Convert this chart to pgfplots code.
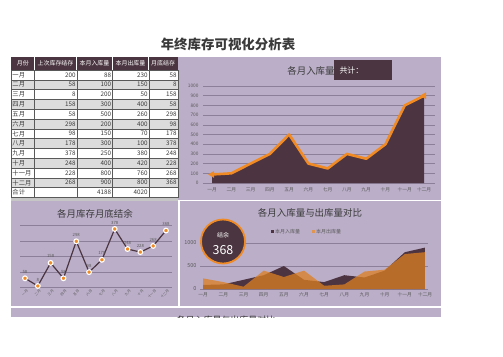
\documentclass[border=0pt]{standalone}
\usepackage{pgfplots}
\pgfplotsset{compat=1.18}
\usepackage{fontspec}
\setmainfont{Noto Sans CJK SC}
\definecolor{panel}{HTML}{BBAEC8}
\definecolor{darkarea}{HTML}{4D3441}
\definecolor{orng}{HTML}{F08A24}
\definecolor{hdr}{HTML}{4A3540}
\definecolor{rowgray}{HTML}{DCDCDC}
\definecolor{gridc}{HTML}{8C7F99}
\definecolor{txtgray}{HTML}{5A5A5A}
\definecolor{txtdark}{HTML}{3A3A3A}
\pgfplotsset{/pgf/number format/1000 sep={}}
\begin{document}
\begin{tikzpicture}[x=1bp,y=1bp]
\path[use as bounding box] (0,0) rectangle (503,356);
\fill[white] (0,0) rectangle (503,356);
% panels
\fill[panel] (11,{356-317}) rectangle (441,{356-57});
\fill[white] (11,{356-307.5}) rectangle (441,{356-306});
\fill[white] (178,{356-201}) rectangle (441,{356-199.5});
\fill[white] (178.3,{356-306}) rectangle (179.8,{356-201});
\fill[gray!45] (11,{356-201}) rectangle (178,{356-198});
\begin{scope}
\clip (11,{356-317}) rectangle (441,{356-307.5});
\node[font=\fontsize{9}{9}\selectfont, text=txtdark] at (226,{356-320}) {各月入库量与出库量对比};
\end{scope}
% main title
\node[font=\fontsize{13.5}{14}\selectfont\bfseries, text=txtdark] at (228,{356-44}) {年终库存可视化分析表};
% table
\fill[hdr] (11.3,{356-70}) rectangle (177.7,{356-57});
\foreach \m/\a/\b/\c/\d [count=\i from 0] in {一月/200/88/230/58,二月/58/100/150/8,三月/8/200/50/158,四月/158/300/400/58,五月/58/500/260/298,六月/298/200/400/98,七月/98/150/70/178,八月/178/300/100/378,九月/378/250/380/248,十月/248/400/420/228,十一月/228/800/760/268,十二月/268/900/800/368,合计//4188/4020/}{
  \pgfmathsetmacro{\yt}{356-70-9.8*\i}
  \pgfmathsetmacro{\yb}{\yt-9.8}
  \pgfmathsetmacro{\yc}{\yt-4.9}
  \pgfmathtruncatemacro{\odd}{mod(\i,2)}
  \ifnum\odd=1 \fill[rowgray] (11.3,\yb) rectangle (177.7,\yt); \else \fill[white] (11.3,\yb) rectangle (177.7,\yt); \fi
  \draw[gray!70!black, line width=0.35] (11.3,\yb) rectangle (177.7,\yt);
  \foreach \xx in {34.3,76.7,112.3,148.7}{\draw[gray!70!black, line width=0.35] (\xx,\yb) -- (\xx,\yt);}
  \node[anchor=west, inner sep=0, font=\fontsize{6.3}{7}\selectfont, text=txtdark] at (12.3,\yc) {\m};
  \node[anchor=east, inner sep=0, font=\fontsize{6.3}{7}\selectfont, text=txtdark] at (75.7,\yc) {\a};
  \node[anchor=east, inner sep=0, font=\fontsize{6.3}{7}\selectfont, text=txtdark] at (111.3,\yc) {\b};
  \node[anchor=east, inner sep=0, font=\fontsize{6.3}{7}\selectfont, text=txtdark] at (147.7,\yc) {\c};
  \node[anchor=east, inner sep=0, font=\fontsize{6.3}{7}\selectfont, text=txtdark] at (176.7,\yc) {\d};
}
\foreach \xx in {34.3,76.7,112.3,148.7}{\draw[white, line width=0.5] (\xx,{356-70}) -- (\xx,{356-57});}
\foreach \h/\xc in {月份/22.8,上次库存结存/55.5,本月入库量/94.5,本月出库量/130.5,月底结存/163.2}{
  \node[inner sep=0, font=\fontsize{6}{7}\selectfont, text=white] at (\xc,{356-63.5}) {\h};
}
% ---------- chart 1: area ----------
\begin{axis}[at={(203bp,173bp)}, anchor=south west, scale only axis,
  width=232bp, height=97bp,
  xmin=-0.47, xmax=11.57, ymin=0, ymax=1000,
  axis line style={draw=none}, tick style={draw=none},
  ytick={0,100,...,1000}, ymajorgrids, grid style={gridc, line width=0.5},
  xtick={0,...,11},
  xticklabels={一月,二月,三月,四月,五月,六月,七月,八月,九月,十月,十一月,十二月},
  tick label style={font=\fontsize{4.8}{5}\selectfont, text=txtgray},
  /pgf/number format/assume math mode=true,
  yticklabel style={xshift=-1bp, /pgf/number format/1000 sep={}}, xticklabel style={yshift=-1bp},
  clip=false]
\addplot[fill=darkarea, draw=none] coordinates {(0,88)(1,100)(2,200)(3,300)(4,500)(5,200)(6,150)(7,300)(8,250)(9,400)(10,800)(11,900)} \closedcycle;
\addplot[orng, line width=2.6bp, line join=round, line cap=round, mark=triangle*, mark repeat=11, mark size=3.5, mark options={rotate=-30, fill=orng, draw=orng, line width=0.5}] coordinates {(0,88)(1,100)(2,200)(3,300)(4,500)(5,200)(6,150)(7,300)(8,250)(9,400)(10,800)(11,900)};
\end{axis}
\node[font=\fontsize{9.5}{10}\selectfont, text=txtdark] at (311,{356-70.5}) {各月入库量};
\fill[hdr] (334,{356-80}) rectangle (392,{356-60});
\node[anchor=west, font=\fontsize{8}{9}\selectfont, text=white] at (336,{356-70.5}) {共计：};
% ---------- chart 2: line ----------
\node[font=\fontsize{9.5}{10}\selectfont, text=txtdark] at (95,{356-214}) {各月库存月底结余};
\begin{axis}[at={(20bp,68.8bp)}, anchor=south west, scale only axis,
  width=152bp, height=61.6bp,
  xmin=-0.39, xmax=11.47, ymin=0, ymax=400,
  axis line style={draw=none}, tick style={draw=none},
  ytick={0,100,...,400}, yticklabels={}, ymajorgrids, grid style={gridc, line width=0.45},
  xtick={0,...,11},
  xticklabels={一月,二月,三月,四月,五月,六月,七月,八月,九月,十月,十一月,十二月},
  xticklabel style={font=\fontsize{3.5}{4}\selectfont, text=txtgray, rotate=45, anchor=north east, inner sep=0.3bp, yshift=-2bp},
  clip=false,
  nodes near coords, nodes near coords style={font=\fontsize{4.3}{5}\selectfont, text=txtgray, yshift=1bp},
  /pgf/number format/assume math mode=true]
\addplot[hdr, line width=1.2bp, mark=*, mark size=2.4, mark options={fill=orng, draw=white, line width=1.1}] coordinates {(0,58)(1,8)(2,158)(3,58)(4,298)(5,98)(6,178)(7,378)(8,248)(9,228)(10,268)(11,368)};
\end{axis}
% ---------- chart 3: two areas ----------
\node[font=\fontsize{9.5}{10}\selectfont, text=txtdark] at (310,{356-213}) {各月入库量与出库量对比};
\fill[darkarea] (271,{356-233}) rectangle (274,{356-230});
\node[anchor=west, inner sep=0, font=\fontsize{5}{6}\selectfont, text=txtgray] at (275,{356-231.5}) {本月入库量};
\fill[orng!70!panel] (312,{356-233}) rectangle (315,{356-230});
\node[anchor=west, inner sep=0, font=\fontsize{5}{6}\selectfont, text=txtgray] at (316,{356-231.5}) {本月出库量};
\begin{axis}[at={(200bp,67bp)}, anchor=south west, scale only axis,
  width=228bp, height=46bp,
  xmin=-0.16, xmax=11.15, ymin=0, ymax=1000,
  axis line style={draw=none}, tick style={draw=none},
  ytick={0,500,1000}, ymajorgrids, grid style={gridc, line width=0.45},
  xtick={0,...,11},
  xticklabels={一月,二月,三月,四月,五月,六月,七月,八月,九月,十月,十一月,十二月},
  tick label style={font=\fontsize{4.8}{5}\selectfont, text=txtgray},
  yticklabel style={font=\fontsize{5.5}{6}\selectfont, /pgf/number format/1000 sep={}},
  /pgf/number format/assume math mode=true,
  clip=false]
\addplot[fill=darkarea, draw=none] coordinates {(0,88)(1,100)(2,200)(3,300)(4,500)(5,200)(6,150)(7,300)(8,250)(9,400)(10,800)(11,900)} \closedcycle;
\addplot[fill=orng!92!black, fill opacity=0.75, draw=none] coordinates {(0,230)(1,150)(2,50)(3,400)(4,260)(5,400)(6,70)(7,100)(8,380)(9,420)(10,760)(11,800)} \closedcycle;
\end{axis}
% circle
\fill[hdr] (223,{356-241.5}) circle (22);
\draw[orng, line width=1.8bp] (223,{356-241.5}) circle (22);
\node[font=\fontsize{6}{7}\selectfont, text=white] at (223,{356-235}) {结余};
\node[font=\fontsize{12.5}{13}\selectfont, text=white] at (223,{356-250.5}) {368};
\end{tikzpicture}
\end{document}
